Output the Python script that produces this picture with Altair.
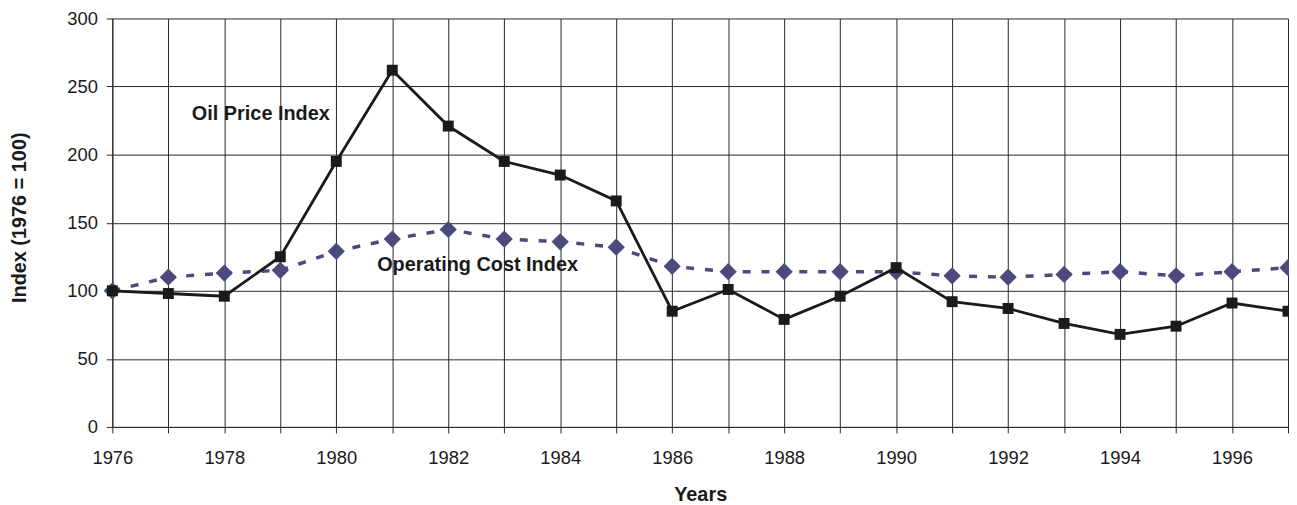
import altair as alt
import pandas as pd

years = list(range(1976, 1998))
oil_price = [100, 98, 96, 125, 195, 262, 221, 195, 185, 166, 85, 101, 79, 96, 117, 92, 87, 76, 68, 74, 91, 85]
operating_cost = [100, 110, 113, 115, 129, 138, 145, 138, 136, 132, 118, 114, 114, 114, 114, 111, 110, 112, 114, 111, 114, 117]

label_text = ["Oil Price Index", "Operating Cost Index"]
label_year = [1977.42, 1980.73]
label_value = [230, 119]

df_oil = pd.DataFrame({"year": years, "value": oil_price})
df_op = pd.DataFrame({"year": years, "value": operating_cost})
df_lab = pd.DataFrame({"year": label_year, "value": label_value, "text": label_text})

FONT = "Liberation Sans"

x_enc = alt.X(
    "year:Q",
    scale=alt.Scale(domain=[1976, 1997], nice=False, zero=False),
    axis=alt.Axis(
        values=years,
        format="d",
        labelExpr="datum.value % 2 == 0 ? datum.label : ''",
        labelFlush=False,
        labelOverlap=False,
        title="Years",
        titleBaseline="alphabetic",
        titleY=74.5,
        labelPadding=16,
        tickSize=6,
        grid=True,
    ),
)
y_enc = alt.Y(
    "value:Q",
    scale=alt.Scale(domain=[0, 300], nice=False),
    axis=alt.Axis(
        values=[0, 50, 100, 150, 200, 250, 300],
        labelFlush=False,
        title="Index (1976 = 100)",
        titleX=-93,
        titleY=200,
        titleBaseline="middle",
        labelPadding=9,
        tickSize=6,
        grid=True,
    ),
)

op_line = alt.Chart(df_op).mark_line(
    color="#4a4a7c", strokeWidth=3.5, strokeDash=[8, 11]
).encode(x=x_enc, y=y_enc)
op_pts = alt.Chart(df_op).mark_point(
    shape="diamond", size=300, filled=True, color="#4a4a7c", opacity=1
).encode(x="year:Q", y="value:Q")

oil_line = alt.Chart(df_oil).mark_line(
    color="#1a1a1a", strokeWidth=2.8
).encode(x="year:Q", y="value:Q")
oil_pts = alt.Chart(df_oil).mark_point(
    shape="square", size=121, filled=True, color="#1a1a1a", opacity=1
).encode(x="year:Q", y="value:Q")

labels = alt.Chart(df_lab).mark_text(
    align="left", baseline="middle", font=FONT, fontSize=20, fontWeight="bold", color="#1a1a1a"
).encode(x="year:Q", y="value:Q", text="text:N")

chart = (
    alt.layer(op_line, op_pts, oil_line, oil_pts, labels)
    .properties(
        width=1183,
        height=411,
        autosize=alt.AutoSizeParams(type="none"),
        padding={"left": 105, "top": 9, "right": 1, "bottom": 77},
    )
    .configure_view(stroke=None)
    .configure_axis(
        labelFont=FONT,
        titleFont=FONT,
        labelFontSize=18.5,
        titleFontSize=20,
        titleFontWeight="bold",
        labelColor="#1a1a1a",
        titleColor="#1a1a1a",
        gridColor="#262626",
        gridOpacity=1,
        gridWidth=1,
        tickColor="#262626",
        tickWidth=1,
        domainColor="#262626",
        domainWidth=1,
    )
)

chart.save("out.html", embed_options={"renderer": "svg", "actions": False})
